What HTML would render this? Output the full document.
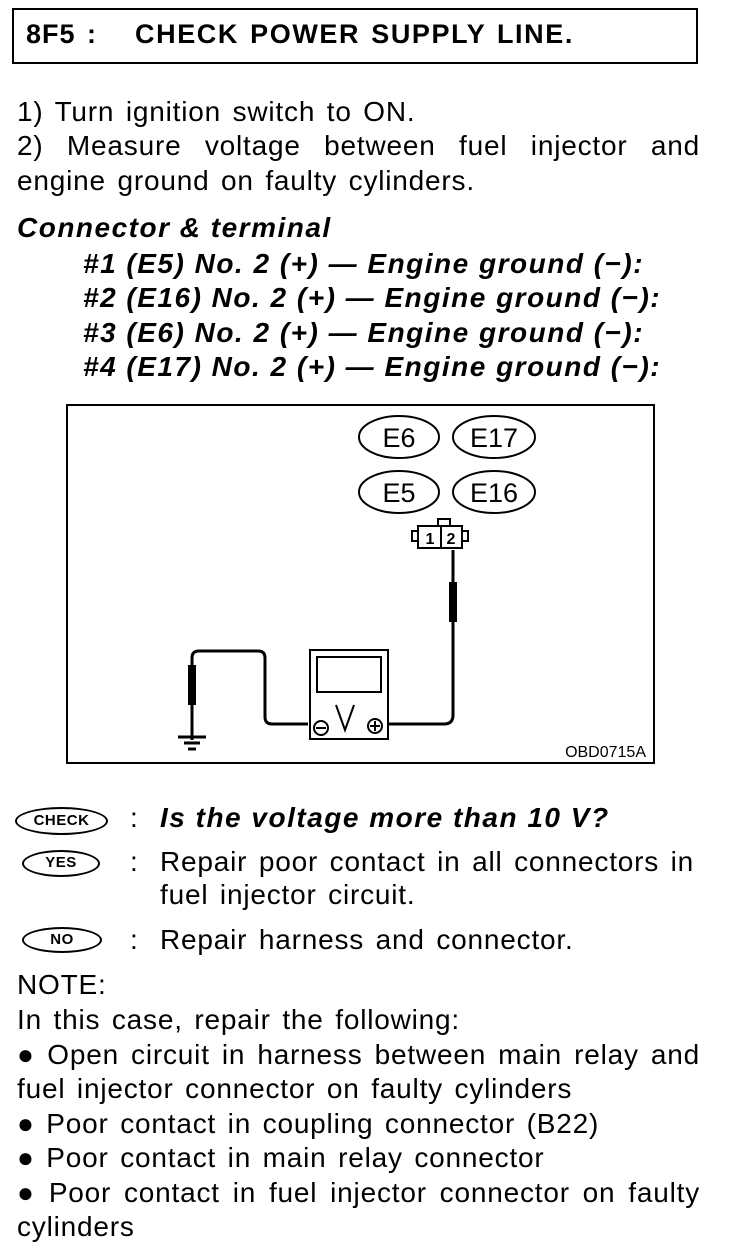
<!DOCTYPE html>
<html><head><style>
body{margin:0;width:736px;height:1258px;background:#fff;position:relative;font-family:"Liberation Sans",Arial,sans-serif;color:#000;overflow:hidden}
.t{position:absolute;font-size:28px;line-height:34px;white-space:nowrap;letter-spacing:0.8px;word-spacing:3px}
.b{font-weight:bold;font-style:italic;letter-spacing:1.5px;word-spacing:0}
.j{text-align:justify;text-align-last:justify;white-space:normal}
.ic{position:absolute;border:2.5px solid #000;border-radius:50%;font-weight:bold;font-size:15px;text-align:center;box-sizing:border-box;letter-spacing:0.5px}
</style></head><body>
<div style="position:absolute;left:12px;top:8px;width:686px;height:56px;border:2px solid #000;box-sizing:border-box"></div>
<div class="t" style="left:26px;top:17px;font-weight:bold;font-size:27px;letter-spacing:1px">8F5 :</div>
<div class="t" style="left:135px;top:17px;font-weight:bold;font-size:27px;letter-spacing:1.6px;word-spacing:2px">CHECK POWER SUPPLY LINE.</div>
<div class="t" style="left:17px;top:95px">1) Turn ignition switch to ON.</div>
<div class="t j" style="left:17px;top:129px;width:683px">2) Measure voltage between fuel injector and</div>
<div class="t" style="left:17px;top:164px">engine ground on faulty cylinders.</div>
<div class="t b" style="left:17px;top:211px">Connector &amp; terminal</div>
<div class="t b" style="left:83px;top:247px">#1 (E5) No. 2 (+) — Engine ground (−):</div>
<div class="t b" style="left:83px;top:281px">#2 (E16) No. 2 (+) — Engine ground (−):</div>
<div class="t b" style="left:83px;top:316px">#3 (E6) No. 2 (+) — Engine ground (−):</div>
<div class="t b" style="left:83px;top:350px">#4 (E17) No. 2 (+) — Engine ground (−):</div>
<svg style="position:absolute;left:0;top:0" width="736" height="800" font-family="Liberation Sans,Arial,sans-serif">
<rect x="67" y="405" width="587" height="358" fill="none" stroke="#000" stroke-width="2"/>
<g fill="none" stroke="#000" stroke-width="2">
<ellipse cx="399" cy="437" rx="40" ry="21"/><ellipse cx="494" cy="437" rx="41" ry="21"/>
<ellipse cx="399" cy="492" rx="40" ry="21"/><ellipse cx="494" cy="492" rx="41" ry="21"/>
</g>
<g font-size="27" text-anchor="middle">
<text x="399" y="447">E6</text><text x="494" y="447">E17</text>
<text x="399" y="502">E5</text><text x="494" y="502">E16</text></g>
<g fill="none" stroke="#000" stroke-width="2">
<rect x="438" y="519" width="12" height="7"/>
<rect x="418" y="526" width="44" height="22"/>
<line x1="441" y1="526" x2="441" y2="548"/>
<rect x="412" y="531" width="6" height="10"/><rect x="462" y="531" width="6" height="10"/>
</g>
<g font-size="16" font-weight="bold" text-anchor="middle"><text x="430" y="544">1</text><text x="451" y="544">2</text></g>
<g fill="none" stroke="#000" stroke-width="3">
<path d="M453 550 V715 Q453 724 444 724 H389"/>
<path d="M308 724 H272 Q265 724 265 717 V658 Q265 651 258 651 H199 Q192 651 192 658 V740"/>
</g>
<rect x="449" y="582" width="8" height="40" fill="#000"/>
<rect x="188" y="665" width="8" height="40" fill="#000"/>
<g stroke="#000" stroke-width="3"><line x1="178" y1="737" x2="206" y2="737"/><line x1="184" y1="743" x2="200" y2="743"/><line x1="188" y1="749" x2="196" y2="749"/></g>
<rect x="310" y="650" width="78" height="89" fill="none" stroke="#000" stroke-width="2"/>
<rect x="317" y="657" width="64" height="35" fill="none" stroke="#000" stroke-width="2"/>
<path d="M336 705 L345 730 L354 705" fill="none" stroke="#000" stroke-width="2"/>
<g fill="none" stroke="#000" stroke-width="2"><circle cx="321" cy="728" r="7"/><line x1="316" y1="728" x2="326" y2="728"/>
<circle cx="375" cy="726" r="7"/><line x1="370" y1="726" x2="380" y2="726"/><line x1="375" y1="721" x2="375" y2="731"/></g>
<text x="646" y="757" font-size="16" text-anchor="end">OBD0715A</text>
</svg>
<div class="ic" style="left:15px;top:807px;width:93px;height:28px;line-height:23px">CHECK</div>
<div class="ic" style="left:22px;top:850px;width:78px;height:27px;line-height:22px">YES</div>
<div class="ic" style="left:22px;top:927px;width:80px;height:26px;line-height:21px">NO</div>
<div class="t" style="left:130px;top:801px">:</div>
<div class="t b" style="left:160px;top:801px">Is the voltage more than 10 V?</div>
<div class="t" style="left:130px;top:845px">:</div>
<div class="t" style="left:160px;top:845px">Repair poor contact in all connectors in</div>
<div class="t" style="left:160px;top:878px">fuel injector circuit.</div>
<div class="t" style="left:130px;top:923px">:</div>
<div class="t" style="left:160px;top:923px">Repair harness and connector.</div>
<div class="t" style="left:17px;top:968px">NOTE:</div>
<div class="t" style="left:17px;top:1003px">In this case, repair the following:</div>
<div class="t j" style="left:17px;top:1038px;width:683px">● Open circuit in harness between main relay and</div>
<div class="t" style="left:17px;top:1072px">fuel injector connector on faulty cylinders</div>
<div class="t" style="left:17px;top:1107px">● Poor contact in coupling connector (B22)</div>
<div class="t" style="left:17px;top:1141px">● Poor contact in main relay connector</div>
<div class="t j" style="left:17px;top:1176px;width:683px">● Poor contact in fuel injector connector on faulty</div>
<div class="t" style="left:17px;top:1210px">cylinders</div>
</body></html>
